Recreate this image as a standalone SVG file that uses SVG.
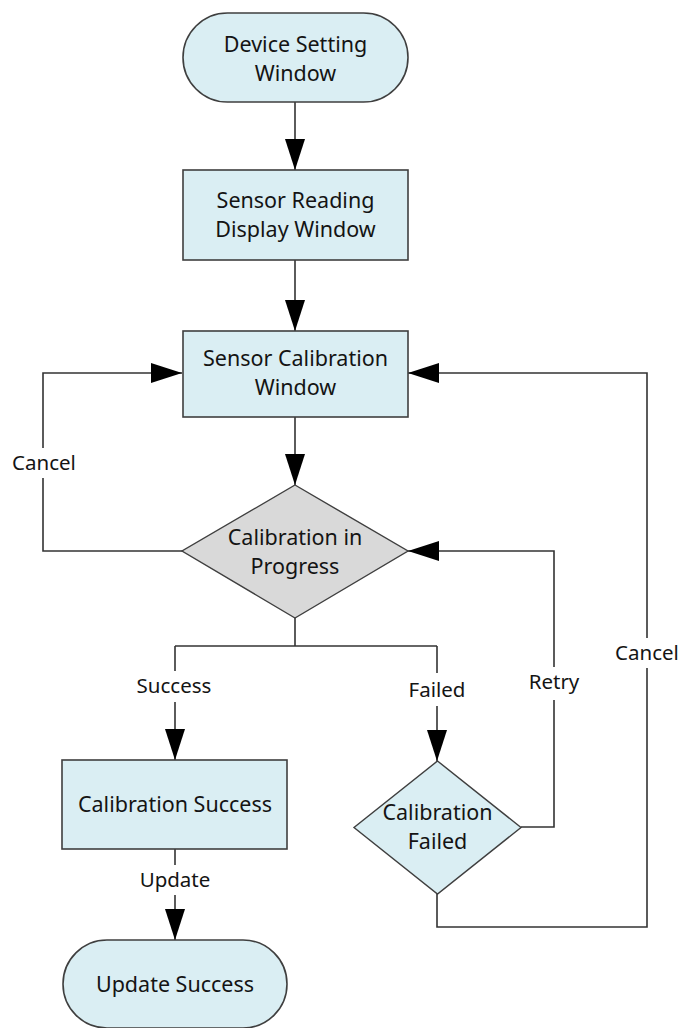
<svg xmlns="http://www.w3.org/2000/svg" width="681" height="1028" viewBox="0 0 681 1028">
  <style>
    .node { fill: #daeef3; stroke: #3f3f3f; stroke-width: 1.6; }
    .decision { fill: #d9d9d9; stroke: #3f3f3f; stroke-width: 1.4; }
    .decision-alt { fill: #daeef3; stroke: #3f3f3f; stroke-width: 1.4; }
    .label { font-family: "Noto Sans", "Open Sans", sans-serif; font-size: 21.5px; fill: #141414; text-anchor: middle; }
    .edge-label { font-family: "Noto Sans", "Open Sans", sans-serif; font-size: 20.5px; fill: #141414; text-anchor: middle; }
    .wire { fill: none; stroke: #333333; stroke-width: 1.6; }
    .arrow { fill: none; stroke: #333333; stroke-width: 1.6; marker-end: url(#head); }
    .mask { fill: #ffffff; }
  </style>
  <defs>
    <marker id="head" markerUnits="userSpaceOnUse" markerWidth="32" markerHeight="22" refX="31" refY="10" orient="auto">
      <path d="M0,0 L31,10 L0,20 z" fill="#000000"/>
    </marker>
  </defs>
  <rect width="681" height="1028" fill="#ffffff"/>

  <!-- connectors -->
  <g id="connectors">
    <line class="arrow" x1="295" y1="102" x2="295" y2="170"/>
    <line class="arrow" x1="295" y1="260" x2="295" y2="331"/>
    <line class="arrow" x1="295" y1="417" x2="295" y2="485"/>
    <!-- cancel back to calibration window (left loop) -->
    <polyline class="arrow" points="182,551 43,551 43,373 182,373"/>
    <!-- outcome split -->
    <line class="wire" x1="295" y1="618" x2="295" y2="646"/>
    <line class="wire" x1="175" y1="646" x2="437" y2="646"/>
    <line class="arrow" x1="175" y1="646" x2="175" y2="760"/>
    <line class="arrow" x1="437" y1="646" x2="437" y2="761"/>
    <!-- update -->
    <line class="arrow" x1="175" y1="849" x2="175" y2="940"/>
    <!-- retry loop -->
    <polyline class="arrow" points="521,827 554,827 554,551 408,551"/>
    <!-- cancel loop from failure -->
    <polyline class="arrow" points="437,894 437,927 647,927 647,373 408,373"/>

    <!-- connector labels -->
    <rect class="mask" x="10" y="448" width="68" height="30"/>
    <text class="edge-label" x="44" y="470">Cancel</text>
    <rect class="mask" x="133" y="671" width="82" height="31"/>
    <text class="edge-label" x="174" y="693">Success</text>
    <rect class="mask" x="405" y="673" width="64" height="33"/>
    <text class="edge-label" x="437" y="697">Failed</text>
    <rect class="mask" x="528" y="667" width="52" height="33"/>
    <text class="edge-label" x="554" y="689">Retry</text>
    <rect class="mask" x="612" y="638" width="70" height="30"/>
    <text class="edge-label" x="647" y="660">Cancel</text>
    <rect class="mask" x="136" y="865" width="78" height="30"/>
    <text class="edge-label" x="175" y="887">Update</text>
  </g>

  <g id="device-setting-window">
    <rect class="node" x="183" y="13" width="225" height="89" rx="44.5" ry="44.5"/>
    <text class="label" x="295.5" y="52">Device Setting</text>
    <text class="label" x="295.5" y="81">Window</text>
  </g>

  <g id="sensor-reading-display-window">
    <rect class="node" x="183" y="170" width="225" height="90"/>
    <text class="label" x="295.5" y="208">Sensor Reading</text>
    <text class="label" x="295.5" y="237">Display Window</text>
  </g>

  <g id="sensor-calibration-window">
    <rect class="node" x="183" y="331" width="225" height="86"/>
    <text class="label" x="295.5" y="366">Sensor Calibration</text>
    <text class="label" x="295.5" y="395">Window</text>
  </g>

  <g id="calibration-in-progress">
    <polygon class="decision" points="295,485 408,551 295,618 182,551"/>
    <text class="label" x="295" y="545">Calibration in</text>
    <text class="label" x="295" y="574">Progress</text>
  </g>

  <g id="calibration-success">
    <rect class="node" x="62" y="760" width="225" height="89"/>
    <text class="label" x="175" y="812">Calibration Success</text>
  </g>

  <g id="calibration-failed">
    <polygon class="decision-alt" points="437.5,761 521,827.5 437.5,894 354,827.5"/>
    <text class="label" x="437.5" y="820">Calibration</text>
    <text class="label" x="437.5" y="849">Failed</text>
  </g>

  <g id="update-success">
    <rect class="node" x="63" y="940" width="224" height="88" rx="44" ry="44"/>
    <text class="label" x="175" y="992">Update Success</text>
  </g>
</svg>
